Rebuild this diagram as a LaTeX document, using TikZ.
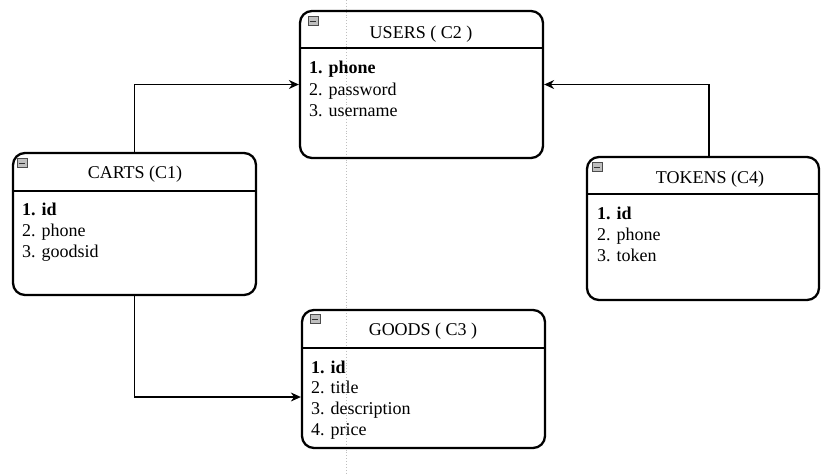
\documentclass[tikz,border=0pt]{standalone}
\usepackage{fontspec}
\setmainfont{Liberation Serif}
\usetikzlibrary{arrows.meta,calc}
\begin{document}
\begin{tikzpicture}[x=1pt,y=-1pt,
  entity/.style={draw=black,line width=2.3pt,rounded corners=12pt,inner sep=0pt},
  hdr/.style={draw=black,line width=1.6pt},
  ttl/.style={anchor=base,font=\fontsize{18}{21}\selectfont,inner sep=0pt},
  fld/.style={anchor=base west,font=\fontsize{18}{21}\selectfont,inner sep=0pt},
  conn/.style={draw=black,line width=1.1pt,-{Stealth[length=10pt,width=9pt]}},
  icon/.style={draw=black!70,fill=black!25,line width=0.6pt,minimum width=10pt,minimum height=9pt,inner sep=0pt}]
\useasboundingbox (0,0) rectangle (821,475);
\fill[white] (0,0) rectangle (821,475);
\draw[black!25,dotted,line width=0.9pt] (346,0) -- (346,475);

% USERS
\node[entity,minimum width=243pt,minimum height=147pt] (users) at (421.5,84.5) {};
\draw[hdr] (301,48) -- (542,48);
\node[icon] (uicon) at (313,21) {};
\draw[black!80,line width=0.9pt] (uicon.west) ++(2,0) -- ++(6,0);
\node[ttl] (ut) at (421,38) {USERS ( C2 )};
\node[fld] (u1) at (309,73) {\textbf{1. phone}};
\node[fld] (u2) at (309,95) {2. password};
\node[fld] (u3) at (309,116) {3. username};

% CARTS
\node[entity,minimum width=243pt,minimum height=142pt] (carts) at (134.5,224) {};
\draw[hdr] (14,191) -- (255,191);
\node[icon] (cicon) at (22,163) {};
\draw[black!80,line width=0.9pt] (cicon.west) ++(2,0) -- ++(6,0);
\node[ttl] (ct) at (135,178) {CARTS (C1)};
\node[fld] (c1) at (22,215) {\textbf{1. id}};
\node[fld] (c2) at (22,236) {2. phone};
\node[fld] (c3) at (22,257) {3. goodsid};

% TOKENS
\node[entity,minimum width=232pt,minimum height=143pt] (tokens) at (703,228.5) {};
\draw[hdr] (588,194) -- (818,194);
\node[icon] (ticon) at (597,167) {};
\draw[black!80,line width=0.9pt] (ticon.west) ++(2,0) -- ++(6,0);
\node[ttl] (tt) at (710,183) {TOKENS (C4)};
\node[fld] (t1) at (597,219) {\textbf{1. id}};
\node[fld] (t2) at (597,240) {2. phone};
\node[fld] (t3) at (597,261) {3. token};

% GOODS
\node[entity,minimum width=243pt,minimum height=138pt] (goods) at (423.5,379) {};
\draw[hdr] (303,348) -- (544,348);
\node[icon] (gicon) at (315,319) {};
\draw[black!80,line width=0.9pt] (gicon.west) ++(2,0) -- ++(6,0);
\node[ttl] (gt) at (423,335) {GOODS ( C3 )};
\node[fld] (g1) at (311,373) {\textbf{1. id}};
\node[fld] (g2) at (311,393) {2. title};
\node[fld] (g3) at (311,414) {3. description};
\node[fld] (g4) at (311,435) {4. price};

% connectors
\draw[conn] (carts.north) |- (users.west);
\coordinate (tk) at ($(tokens.north)+(6,0)$);
\draw[conn] (tk) |- (users.east);
\draw[conn] (carts.south) |- ([yshift=-18pt]goods.west);
\end{tikzpicture}
\end{document}
